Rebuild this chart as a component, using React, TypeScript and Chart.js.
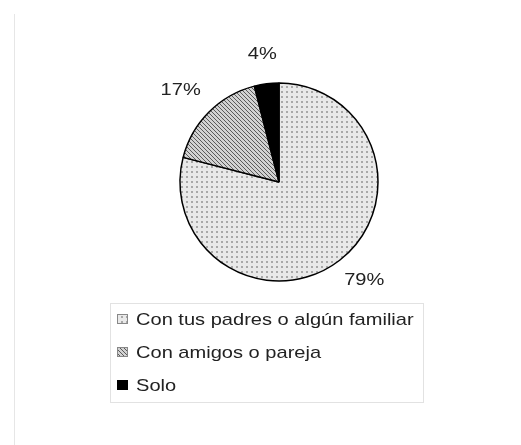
import React, { useEffect, useRef } from "react";
import { Chart, registerables } from "chart.js";

Chart.register(...registerables);

const categories = ["Con tus padres o algún familiar", "Con amigos o pareja", "Solo"];
const shares = [79, 17, 4];
const percentLabels = ["79%", "17%", "4%"];

function makeDots(): CanvasPattern | string {
  const c = document.createElement("canvas");
  c.width = 5;
  c.height = 5;
  const g = c.getContext("2d");
  if (!g) return "#ddd";
  g.fillStyle = "#e9e9e9";
  g.fillRect(0, 0, 5, 5);
  g.fillStyle = "#a8a8a8";
  g.fillRect(1, 1, 2, 2);
  return g.createPattern(c, "repeat") || "#ddd";
}

function makeHatch(): CanvasPattern | string {
  const c = document.createElement("canvas");
  c.width = 4;
  c.height = 4;
  const g = c.getContext("2d");
  if (!g) return "#999";
  g.fillStyle = "#d2d2d2";
  g.fillRect(0, 0, 4, 4);
  g.fillStyle = "#5a5a5a";
  for (let i = 0; i < 4; i++) g.fillRect(i, i, 1, 1);
  return g.createPattern(c, "repeat") || "#999";
}

const FONT = '"Liberation Sans", Arial, sans-serif';
const SX = 1.18;

function stretchedText(ctx: CanvasRenderingContext2D, text: string, x: number, y: number) {
  ctx.save();
  ctx.translate(x, y);
  ctx.scale(SX, 1);
  ctx.fillText(text, 0, 0);
  ctx.restore();
}

const extrasPlugin = {
  id: "extras",
  afterDraw(chart: any) {
    const ctx = chart.ctx as CanvasRenderingContext2D;
    const meta = chart.getDatasetMeta(0);
    const ds = chart.data.datasets[0];
    ctx.save();
    ctx.strokeStyle = "#e6e6e6";
    ctx.lineWidth = 1;
    ctx.beginPath();
    ctx.moveTo(14.5, 14);
    ctx.lineTo(14.5, 445);
    ctx.stroke();

    ctx.font = `17px ${FONT}`;
    ctx.fillStyle = "#222";
    ctx.textAlign = "center";
    ctx.textBaseline = "middle";
    meta.data.forEach((arc: any, i: number) => {
      const mid = (arc.startAngle + arc.endAngle) / 2;
      const r = arc.outerRadius + 20;
      const cx = Math.cos(mid);
      const sy = Math.sin(mid);
      const text = percentLabels[i];
      const w = ctx.measureText(text).width * SX;
      const x = arc.x + cx * r + (cx * w) / 2;
      const y = arc.y + sy * r + (sy * 16) / 2 - 2;
      stretchedText(ctx, text, x, y);
    });

    ctx.strokeStyle = "#e2e2e2";
    ctx.lineWidth = 1;
    ctx.strokeRect(110.5, 303.5, 313, 99);
    const rows = [319, 352, 385];
    ctx.font = `17px ${FONT}`;
    ctx.textAlign = "left";
    chart.data.labels.forEach((lab: string, i: number) => {
      const y = rows[i];
      ctx.fillStyle = ds.backgroundColor[i];
      ctx.fillRect(117, y - 5, 11, 10);
      ctx.strokeStyle = i === 2 ? "#000" : "#888";
      ctx.strokeRect(117.5, y - 4.5, 10, 9);
      ctx.fillStyle = "#222";
      stretchedText(ctx, lab, 136, y + 1);
    });
    ctx.restore();
  },
};

export default function App() {
  const ref = useRef<HTMLCanvasElement>(null);
  useEffect(() => {
    if (!ref.current) return;
    const chart = new Chart(ref.current, {
      type: "pie",
      data: {
        labels: categories,
        datasets: [
          {
            data: shares,
            backgroundColor: [makeDots(), makeHatch(), "#000"] as any,
            borderColor: "#000",
            borderWidth: 1.5,
          },
        ],
      },
      options: {
        responsive: false,
        animation: false,
        radius: 99,
        layout: { padding: { left: 159, top: 62, right: 122, bottom: 143 } },
        plugins: { legend: { display: false }, tooltip: { enabled: false } },
      } as any,
      plugins: [extrasPlugin],
    });
    return () => chart.destroy();
  }, []);
  return (
    <div style={{ position: "fixed", left: 0, top: 0, width: 521, height: 445, background: "#fff" }}>
      <canvas ref={ref} width={521} height={445} style={{ width: 521, height: 445 }} />
    </div>
  );
}
